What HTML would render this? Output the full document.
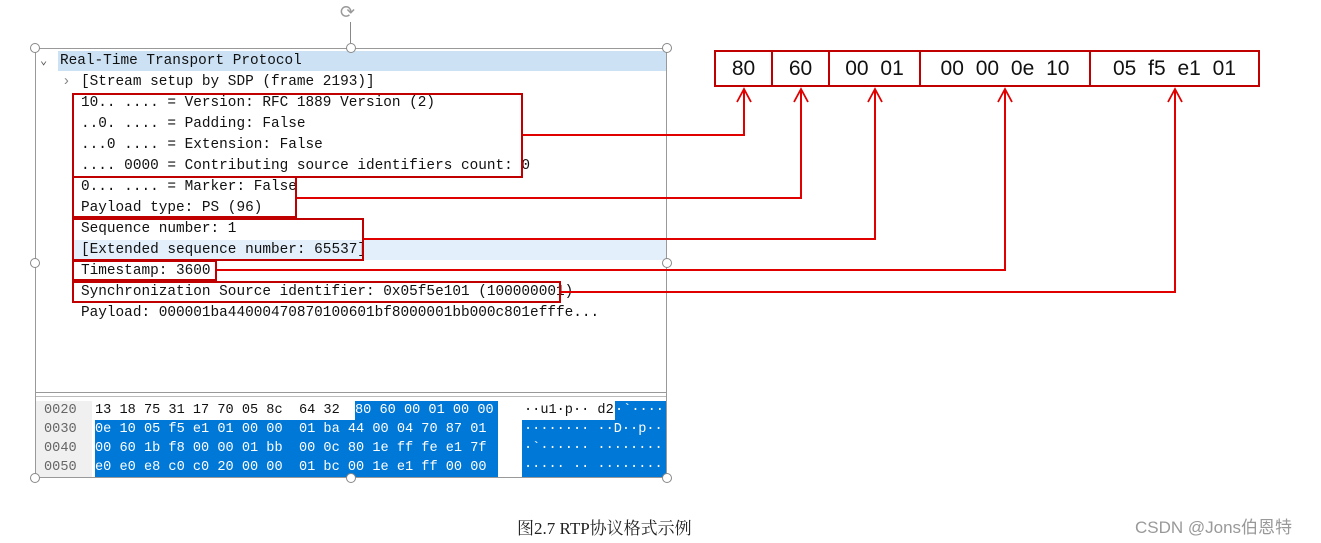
<!DOCTYPE html>
<html><head><meta charset="utf-8">
<style>
body{margin:0;width:1321px;height:543px;background:#fff;position:relative;overflow:hidden;font-family:"Liberation Mono",monospace;}
.t{position:absolute;font-size:14.4px;line-height:20px;white-space:pre;color:#111;}
.h{position:absolute;font-size:13.6px;line-height:19px;white-space:pre;}
.box{position:absolute;border:2px solid #c00000;box-sizing:border-box;}
.cell{position:absolute;top:50px;height:37px;border:2px solid #c00000;box-sizing:border-box;font-family:"Liberation Sans",sans-serif;font-size:21px;line-height:33px;text-align:center;color:#111;word-spacing:6px;}
.hd{position:absolute;width:8px;height:8px;border:1px solid #888;border-radius:50%;background:#fff;}
</style></head><body>
<!-- panel frame -->
<div style="position:absolute;left:35px;top:48px;width:632px;height:430px;border:1px solid #999;box-sizing:border-box;"></div>
<div style="position:absolute;left:36px;top:392px;width:630px;height:5px;border-top:1px solid #999;border-bottom:1px solid #bbb;box-sizing:border-box;"></div>
<div style="position:absolute;left:58px;top:51px;width:608px;height:20px;background:#cce1f4;"></div>
<div style="position:absolute;left:74px;top:240px;width:592px;height:20px;background:#e3effa;"></div>
<div class="t" style="left:40px;top:51px;color:#555;font-size:12px;">⌄</div>
<div class="t" style="left:60px;top:51px;">Real-Time Transport Protocol</div>
<div class="t" style="left:62px;top:72px;color:#888;">›</div>
<div class="t" style="left:81px;top:72px;">[Stream setup by SDP (frame 2193)]</div>
<div class="t" style="left:81px;top:93px;">10.. .... = Version: RFC 1889 Version (2)</div>
<div class="t" style="left:81px;top:114px;">..0. .... = Padding: False</div>
<div class="t" style="left:81px;top:135px;">...0 .... = Extension: False</div>
<div class="t" style="left:81px;top:156px;">.... 0000 = Contributing source identifiers count: 0</div>
<div class="t" style="left:81px;top:177px;">0... .... = Marker: False</div>
<div class="t" style="left:81px;top:198px;">Payload type: PS (96)</div>
<div class="t" style="left:81px;top:219px;">Sequence number: 1</div>
<div class="t" style="left:81px;top:240px;">[Extended sequence number: 65537]</div>
<div class="t" style="left:81px;top:261px;">Timestamp: 3600</div>
<div class="t" style="left:81px;top:282px;">Synchronization Source identifier: 0x05f5e101 (100000001)</div>
<div class="t" style="left:81px;top:303px;">Payload: 000001ba44000470870100601bf8000001bb000c801efffe...</div>
<!-- hex pane -->
<div style="position:absolute;left:36px;top:401px;width:56px;height:76px;background:#f0f0f0;"></div>
<div style="position:absolute;left:355px;top:401px;width:143px;height:19px;background:#0078d7;"></div>
<div style="position:absolute;left:95px;top:420px;width:403px;height:57px;background:#0078d7;"></div>
<div style="position:absolute;left:615px;top:401px;width:51px;height:19px;background:#0078d7;"></div>
<div style="position:absolute;left:522px;top:420px;width:144px;height:57px;background:#0078d7;"></div>
<div class="h" style="left:44px;top:401px;color:#666;">0020
0030
0040
0050</div>
<div class="h" style="left:95px;top:401px;color:#111;">13 18 75 31 17 70 05 8c  64 32</div>
<div class="h" style="left:355px;top:401px;color:#fff;">80 60 00 01 00 00</div>
<div class="h" style="left:95px;top:420px;color:#fff;">0e 10 05 f5 e1 01 00 00  01 ba 44 00 04 70 87 01
00 60 1b f8 00 00 01 bb  00 0c 80 1e ff fe e1 7f
e0 e0 e8 c0 c0 20 00 00  01 bc 00 1e e1 ff 00 00</div>
<div class="h" style="left:524px;top:401px;color:#111;">··u1·p·· d2</div>
<div class="h" style="left:615px;top:401px;color:#fff;">·`····</div>
<div class="h" style="left:524px;top:420px;color:#fff;">········ ··D··p··
·`······ ········
····· ·· ········</div>
<!-- handles -->
<div class="hd" style="left:30px;top:43px"></div><div class="hd" style="left:346px;top:43px"></div><div class="hd" style="left:662px;top:43px"></div>
<div class="hd" style="left:30px;top:258px"></div><div class="hd" style="left:662px;top:258px"></div>
<div class="hd" style="left:30px;top:473px"></div><div class="hd" style="left:346px;top:473px"></div><div class="hd" style="left:662px;top:473px"></div>
<div style="position:absolute;left:350px;top:22px;width:1px;height:21px;background:#888;"></div>
<div style="position:absolute;left:340px;top:3px;font-size:18px;color:#999;font-family:'DejaVu Sans',sans-serif;line-height:20px;">⟳</div>
<!-- red boxes -->
<div class="box" style="left:72px;top:93px;width:451px;height:85px;"></div>
<div class="box" style="left:72px;top:176px;width:225px;height:42px;"></div>
<div class="box" style="left:72px;top:218px;width:292px;height:43px;"></div>
<div class="box" style="left:72px;top:260px;width:145px;height:21px;"></div>
<div class="box" style="left:72px;top:281px;width:489px;height:22px;"></div>
<!-- top cells -->
<div class="cell" style="left:714px;width:59px;">80</div>
<div class="cell" style="left:771px;width:59px;">60</div>
<div class="cell" style="left:828px;width:93px;">00 01</div>
<div class="cell" style="left:919px;width:172px;">00 00 0e 10</div>
<div class="cell" style="left:1089px;width:171px;">05 f5 e1 01</div>
<svg width="1321" height="543" style="position:absolute;left:0;top:0" fill="none" stroke="#e00000" stroke-width="2">
<polyline points="523,135 744,135 744,89"/>
<polyline points="297,198 801,198 801,89"/>
<polyline points="364,239 875,239 875,89"/>
<polyline points="217,270 1005,270 1005,89"/>
<polyline points="561,292 1175,292 1175,89"/>
<g stroke-width="1.8">
<polyline points="737,102 744,89 751,102"/><polyline points="794,102 801,89 808,102"/>
<polyline points="868,102 875,89 882,102"/><polyline points="998,102 1005,89 1012,102"/>
<polyline points="1168,102 1175,89 1182,102"/></g>
</svg>
<div style="position:absolute;left:517px;top:514px;font-family:'Liberation Serif','Noto Serif CJK SC',serif;font-size:17px;color:#222;white-space:nowrap;">图2.7 RTP协议格式示例</div>
<div style="position:absolute;left:1135px;top:513px;font-family:'Liberation Sans','Noto Sans CJK SC',sans-serif;font-size:17px;color:#999;white-space:nowrap;">CSDN @Jons伯恩特</div>
</body></html>
